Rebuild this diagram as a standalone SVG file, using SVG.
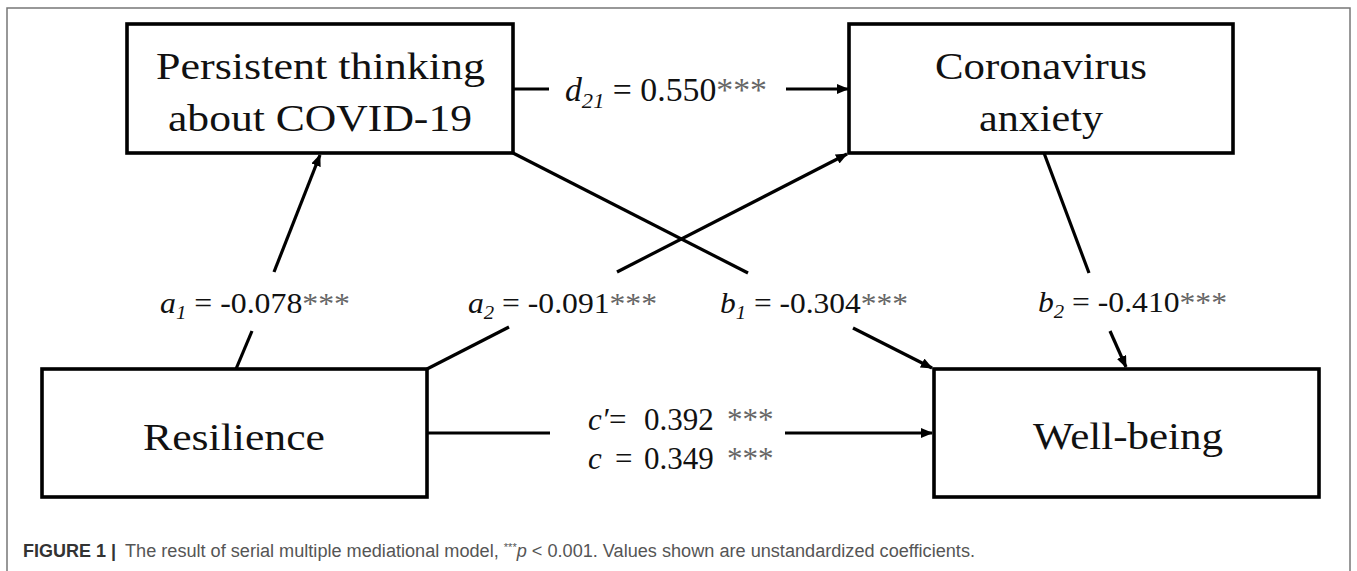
<svg xmlns="http://www.w3.org/2000/svg" width="1357" height="571" viewBox="0 0 1357 571">
<style>
.box{fill:#fff;stroke:#000;stroke-width:3.6}
.node{font-family:"Times New Roman","Liberation Serif",Times,serif;font-size:38px;fill:#111}
.lbl{font-family:"Times New Roman","Liberation Serif",Times,serif;font-size:29px;fill:#111}
.it{font-style:italic}
.sub{font-style:italic;font-size:19px}
.ast{fill:#666}
.con{stroke:#000;stroke-width:3.2;fill:none}
.cap{font-family:"Liberation Sans",Arial,sans-serif;font-size:18px;fill:#555}
</style>
<defs>
<marker id="ah" viewBox="0 0 12 10" refX="11" refY="5" markerWidth="12" markerHeight="10" markerUnits="userSpaceOnUse" orient="auto">
<path d="M0,0 L12,5 L0,10 z" fill="#000"/>
</marker>
</defs>
<rect width="1357" height="571" fill="#fff"/>
<rect x="7" y="8" width="1343" height="600" fill="none" stroke="#777" stroke-width="1.5"/>

<g id="connectors">
<line class="con" x1="513" y1="89" x2="549" y2="89"/>
<line class="con" x1="786" y1="89" x2="848" y2="89" marker-end="url(#ah)"/>
<line class="con" x1="236" y1="369" x2="252" y2="331"/>
<line class="con" x1="274" y1="272" x2="320" y2="155" marker-end="url(#ah)"/>
<line class="con" x1="427" y1="369" x2="509" y2="327"/>
<line class="con" x1="617" y1="272" x2="847" y2="154" marker-end="url(#ah)"/>
<line class="con" x1="513" y1="153" x2="748" y2="273"/>
<line class="con" x1="853" y1="328" x2="932" y2="368" marker-end="url(#ah)"/>
<line class="con" x1="1044" y1="153" x2="1089" y2="273"/>
<line class="con" x1="1110" y1="331" x2="1126" y2="367" marker-end="url(#ah)"/>
<line class="con" x1="427" y1="433" x2="550" y2="433"/>
<line class="con" x1="785" y1="433" x2="932" y2="433" marker-end="url(#ah)"/>

<text class="lbl" style="font-size:33px" x="565" y="101" textLength="202" lengthAdjust="spacingAndGlyphs"><tspan class="it">d</tspan><tspan class="sub" style="font-size:22px" dy="7">21</tspan><tspan dy="-7"> = 0.550</tspan><tspan class="ast">***</tspan></text>
<text class="lbl" x="160" y="313" textLength="190" lengthAdjust="spacingAndGlyphs"><tspan class="it">a</tspan><tspan class="sub" dy="6">1</tspan><tspan dy="-6"> = -0.078</tspan><tspan class="ast">***</tspan></text>
<text class="lbl" x="468" y="313" textLength="189" lengthAdjust="spacingAndGlyphs"><tspan class="it">a</tspan><tspan class="sub" dy="6">2</tspan><tspan dy="-6"> = -0.091</tspan><tspan class="ast">***</tspan></text>
<text class="lbl" x="720" y="313" textLength="188" lengthAdjust="spacingAndGlyphs"><tspan class="it">b</tspan><tspan class="sub" dy="6">1</tspan><tspan dy="-6"> = -0.304</tspan><tspan class="ast">***</tspan></text>
<text class="lbl" x="1038" y="312" textLength="189" lengthAdjust="spacingAndGlyphs"><tspan class="it">b</tspan><tspan class="sub" dy="6">2</tspan><tspan dy="-6"> = -0.410</tspan><tspan class="ast">***</tspan></text>
<text class="lbl" style="font-size:31px" y="430"><tspan class="it" x="588">c′</tspan><tspan x="609">=</tspan><tspan x="644">0.392</tspan><tspan class="ast" x="727">***</tspan></text>
<text class="lbl" style="font-size:31px" y="469"><tspan class="it" x="588">c</tspan><tspan x="615">=</tspan><tspan x="644">0.349</tspan><tspan class="ast" x="727">***</tspan></text>
</g>

<g id="node-persistent">
<rect class="box" x="127" y="24" width="386" height="129"/>
<text class="node" x="156" y="79" textLength="329" lengthAdjust="spacingAndGlyphs">Persistent thinking</text>
<text class="node" x="168" y="131" textLength="304" lengthAdjust="spacingAndGlyphs">about COVID-19</text>
</g>
<g id="node-anxiety">
<rect class="box" x="849" y="24" width="384" height="129"/>
<text class="node" x="935" y="79" textLength="212" lengthAdjust="spacingAndGlyphs">Coronavirus</text>
<text class="node" x="979" y="131" textLength="124" lengthAdjust="spacingAndGlyphs">anxiety</text>
</g>
<g id="node-resilience">
<rect class="box" x="42" y="369" width="385" height="128"/>
<text class="node" x="143" y="450" textLength="182" lengthAdjust="spacingAndGlyphs">Resilience</text>
</g>
<g id="node-wellbeing">
<rect class="box" x="934" y="369" width="385" height="128"/>
<text class="node" x="1033" y="449" textLength="190" lengthAdjust="spacingAndGlyphs">Well-being</text>
</g>

<g id="caption">
<text class="cap" x="23" y="557" style="font-weight:bold;fill:#333" textLength="93" lengthAdjust="spacingAndGlyphs">FIGURE 1 |</text>
<text class="cap" x="125" y="557" textLength="850" lengthAdjust="spacingAndGlyphs">The result of serial multiple mediational model, <tspan style="font-size:11px" dy="-6">***</tspan><tspan class="it" dy="6">p</tspan> &lt; 0.001. Values shown are unstandardized coefficients.</text>
</g>
</svg>
